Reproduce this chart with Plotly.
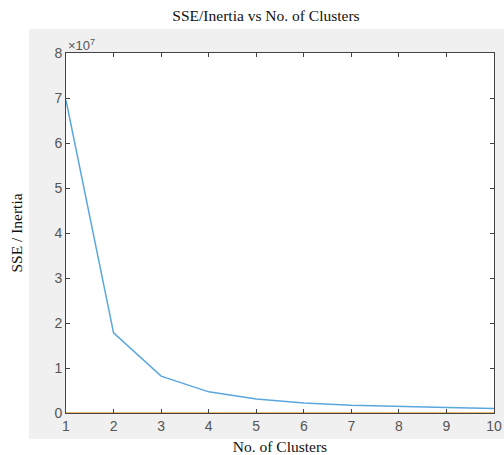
import plotly.graph_objects as go

clusters = [1, 2, 3, 4, 5, 6, 7, 8, 9, 10]
sse = [6.95e7, 1.78e7, 0.82e7, 0.47e7, 0.31e7, 0.22e7, 0.17e7, 0.14e7, 0.12e7, 0.10e7]
zero_line = [0] * 10
y_tickvals = [0, 1e7, 2e7, 3e7, 4e7, 5e7, 6e7, 7e7, 8e7]
y_ticktext = ["0", "1", "2", "3", "4", "5", "6", "7", "8"]

serif = "Liberation Serif, Times New Roman, serif"
sans = "Arial, Liberation Sans, sans-serif"

fig = go.Figure()
fig.add_trace(go.Scatter(x=clusters, y=zero_line, mode="lines",
                         line=dict(color="#E3A63A", width=1.5), showlegend=False))
fig.add_trace(go.Scatter(x=clusters, y=sse, mode="lines",
                         line=dict(color="#5AA7DE", width=1.5), showlegend=False))

tickfont = dict(family=sans, size=14, color="#555555")
fig.update_xaxes(range=[1, 10], tickvals=clusters, ticks="inside", ticklen=4,
                 tickcolor="#444444", showline=True, linecolor="#444444", linewidth=1,
                 mirror="ticks", showgrid=False, zeroline=False, tickfont=tickfont,
                 automargin=False, ticklabeloverflow="allow",
                 title=dict(text="No. of Clusters", font=dict(family=serif, size=15.5, color="#111111"),
                            standoff=8))
fig.update_yaxes(range=[0, 8e7], tickvals=y_tickvals, ticktext=y_ticktext, ticks="inside",
                 ticklen=4, tickcolor="#444444", showline=True, linecolor="#444444", linewidth=1,
                 mirror="ticks", showgrid=False, zeroline=False, tickfont=tickfont,
                 automargin=False,
                 title=dict(text="SSE / Inertia", font=dict(family=serif, size=15.5, color="#111111"),
                            standoff=27))

# grey figure panel (x 29..504, y 29..439 in page pixels), then white axes area
fig.add_shape(type="rect", xref="paper", yref="paper", x0=-37/428, x1=1.1, y0=-26/360, y1=1 + 24/360,
              fillcolor="#F0F0F0", line=dict(width=0), layer="below")
fig.add_shape(type="rect", xref="paper", yref="paper", x0=0, x1=1, y0=0, y1=1,
              fillcolor="#FFFFFF", line=dict(width=0), layer="below")

fig.add_annotation(text="×10<sup>7</sup>", xref="paper", yref="paper", x=0, y=1,
                   xanchor="left", yanchor="bottom", showarrow=False, yshift=-2,
                   font=dict(family=sans, size=13, color="#555555"))

fig.update_layout(
    width=504, height=455,
    margin=dict(l=66, r=10, t=53, b=42),
    paper_bgcolor="#FFFFFF", plot_bgcolor="rgba(0,0,0,0)",
    hovermode=False,
    title=dict(text="SSE/Inertia vs No. of Clusters", x=266 / 504, xanchor="center",
               y=1 - 16 / 455, yanchor="middle",
               font=dict(family=serif, size=15.5, color="#111111")),
)
fig.write_html("out.html", config={"displayModeBar": False},
               post_script="document.body.style.margin='0';document.body.style.overflow='hidden';")
